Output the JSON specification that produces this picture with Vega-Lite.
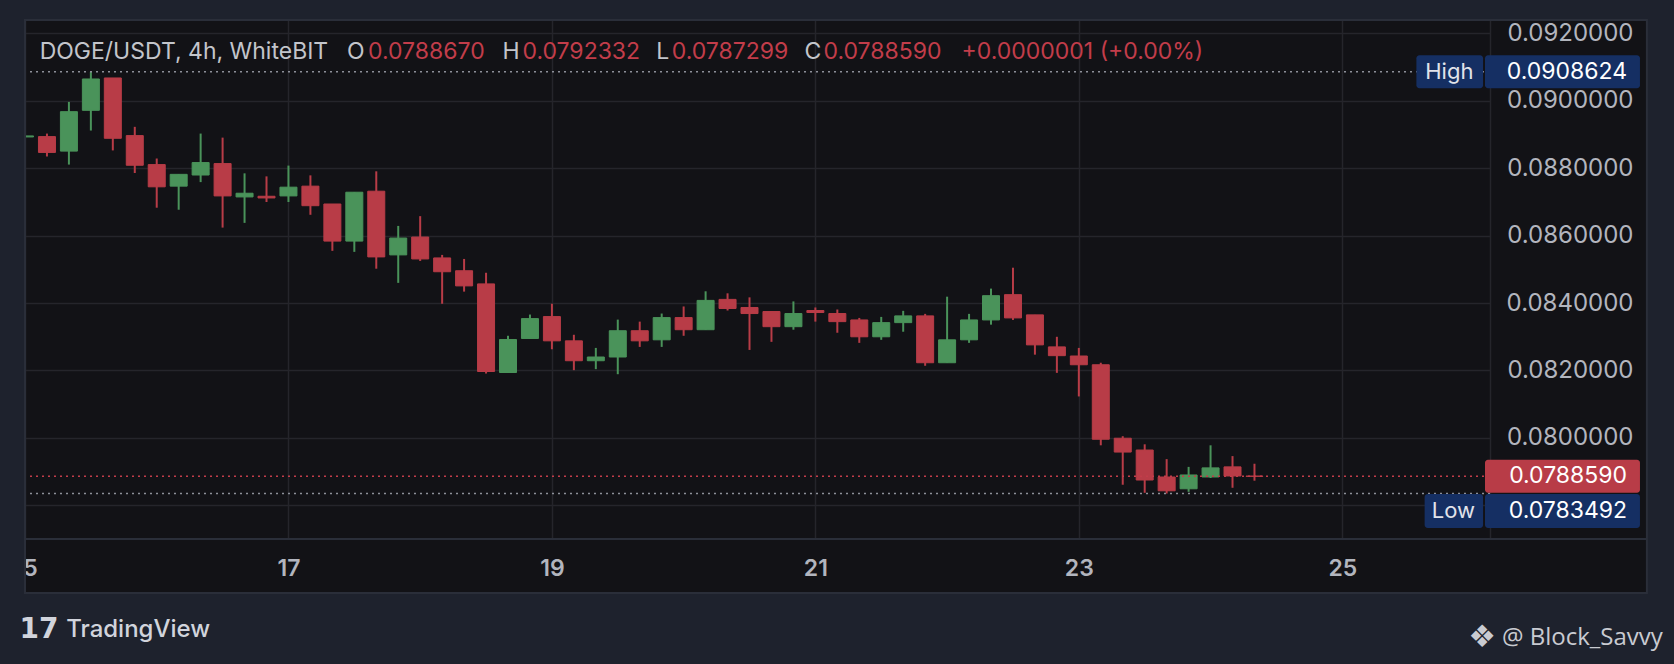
{
  "$schema": "https://vega.github.io/schema/vega-lite/v6.json",
  "description": "DOGE/USDT 4h candles on WhiteBIT, TradingView dark theme",
  "width": 1470,
  "height": 519,
  "autosize": {"type": "none"},
  "padding": {"left": 20, "top": 20, "right": 184, "bottom": 125},
  "config": {
    "background": "#121216",
    "view": {"stroke": null},
    "font": "Inter"
  },
  "datasets": {
    "candles": [
      {"t": "2024-01-15T00:00", "open": 0.08893, "high": 0.08897, "low": 0.08892, "close": 0.08896},
      {"t": "2024-01-15T04:00", "open": 0.08894, "high": 0.08903, "low": 0.08835, "close": 0.08847},
      {"t": "2024-01-15T08:00", "open": 0.08851, "high": 0.08997, "low": 0.08811, "close": 0.08968},
      {"t": "2024-01-15T12:00", "open": 0.08972, "high": 0.0908624, "low": 0.08912, "close": 0.09065},
      {"t": "2024-01-15T16:00", "open": 0.09068, "high": 0.09068, "low": 0.08853, "close": 0.08889},
      {"t": "2024-01-15T20:00", "open": 0.08897, "high": 0.08923, "low": 0.08786, "close": 0.08809},
      {"t": "2024-01-16T00:00", "open": 0.08811, "high": 0.08829, "low": 0.08683, "close": 0.08745},
      {"t": "2024-01-16T04:00", "open": 0.08747, "high": 0.08782, "low": 0.08677, "close": 0.08782},
      {"t": "2024-01-16T08:00", "open": 0.08780, "high": 0.08903, "low": 0.08759, "close": 0.08817},
      {"t": "2024-01-16T12:00", "open": 0.08814, "high": 0.08891, "low": 0.08624, "close": 0.08718},
      {"t": "2024-01-16T16:00", "open": 0.08715, "high": 0.08785, "low": 0.08638, "close": 0.08726},
      {"t": "2024-01-16T20:00", "open": 0.08717, "high": 0.08776, "low": 0.08700, "close": 0.08712},
      {"t": "2024-01-17T00:00", "open": 0.08718, "high": 0.08808, "low": 0.08700, "close": 0.08744},
      {"t": "2024-01-17T04:00", "open": 0.08747, "high": 0.08779, "low": 0.08662, "close": 0.08689},
      {"t": "2024-01-17T08:00", "open": 0.08694, "high": 0.08694, "low": 0.08555, "close": 0.08584},
      {"t": "2024-01-17T12:00", "open": 0.08584, "high": 0.08729, "low": 0.08552, "close": 0.08729},
      {"t": "2024-01-17T16:00", "open": 0.08732, "high": 0.08791, "low": 0.08502, "close": 0.08537},
      {"t": "2024-01-17T20:00", "open": 0.08543, "high": 0.08629, "low": 0.08460, "close": 0.08593},
      {"t": "2024-01-18T00:00", "open": 0.08596, "high": 0.08658, "low": 0.08525, "close": 0.08531},
      {"t": "2024-01-18T04:00", "open": 0.08534, "high": 0.08543, "low": 0.08398, "close": 0.08493},
      {"t": "2024-01-18T08:00", "open": 0.08496, "high": 0.08531, "low": 0.08434, "close": 0.08451},
      {"t": "2024-01-18T12:00", "open": 0.08457, "high": 0.08490, "low": 0.08191, "close": 0.08197},
      {"t": "2024-01-18T16:00", "open": 0.08194, "high": 0.08303, "low": 0.08194, "close": 0.08292},
      {"t": "2024-01-18T20:00", "open": 0.08295, "high": 0.08366, "low": 0.08295, "close": 0.08354},
      {"t": "2024-01-19T00:00", "open": 0.08360, "high": 0.08398, "low": 0.08263, "close": 0.08288},
      {"t": "2024-01-19T04:00", "open": 0.08288, "high": 0.08306, "low": 0.08201, "close": 0.08229},
      {"t": "2024-01-19T08:00", "open": 0.08229, "high": 0.08267, "low": 0.08204, "close": 0.08240},
      {"t": "2024-01-19T12:00", "open": 0.08240, "high": 0.08351, "low": 0.08189, "close": 0.08318},
      {"t": "2024-01-19T16:00", "open": 0.08318, "high": 0.08345, "low": 0.08270, "close": 0.08288},
      {"t": "2024-01-19T20:00", "open": 0.08291, "high": 0.08369, "low": 0.08270, "close": 0.08357},
      {"t": "2024-01-20T00:00", "open": 0.08357, "high": 0.08390, "low": 0.08303, "close": 0.08321},
      {"t": "2024-01-20T04:00", "open": 0.08321, "high": 0.08435, "low": 0.08321, "close": 0.08408},
      {"t": "2024-01-20T08:00", "open": 0.08411, "high": 0.08429, "low": 0.08378, "close": 0.08384},
      {"t": "2024-01-20T12:00", "open": 0.08387, "high": 0.08417, "low": 0.08261, "close": 0.08369},
      {"t": "2024-01-20T16:00", "open": 0.08375, "high": 0.08375, "low": 0.08285, "close": 0.08330},
      {"t": "2024-01-20T20:00", "open": 0.08330, "high": 0.08405, "low": 0.08321, "close": 0.08369},
      {"t": "2024-01-21T00:00", "open": 0.08378, "high": 0.08387, "low": 0.08345, "close": 0.08372},
      {"t": "2024-01-21T04:00", "open": 0.08369, "high": 0.08381, "low": 0.08312, "close": 0.08345},
      {"t": "2024-01-21T08:00", "open": 0.08350, "high": 0.08356, "low": 0.08282, "close": 0.08300},
      {"t": "2024-01-21T12:00", "open": 0.08300, "high": 0.08359, "low": 0.08291, "close": 0.08342},
      {"t": "2024-01-21T16:00", "open": 0.08342, "high": 0.08377, "low": 0.08315, "close": 0.08362},
      {"t": "2024-01-21T20:00", "open": 0.08362, "high": 0.08368, "low": 0.08214, "close": 0.08223},
      {"t": "2024-01-22T00:00", "open": 0.08223, "high": 0.08419, "low": 0.08223, "close": 0.08291},
      {"t": "2024-01-22T04:00", "open": 0.08291, "high": 0.08368, "low": 0.08282, "close": 0.08350},
      {"t": "2024-01-22T08:00", "open": 0.08350, "high": 0.08443, "low": 0.08336, "close": 0.08422},
      {"t": "2024-01-22T12:00", "open": 0.08425, "high": 0.08505, "low": 0.08350, "close": 0.08356},
      {"t": "2024-01-22T16:00", "open": 0.08365, "high": 0.08365, "low": 0.08247, "close": 0.08276},
      {"t": "2024-01-22T20:00", "open": 0.08270, "high": 0.08300, "low": 0.08193, "close": 0.08244},
      {"t": "2024-01-23T00:00", "open": 0.08243, "high": 0.08267, "low": 0.08123, "close": 0.08217},
      {"t": "2024-01-23T04:00", "open": 0.08217, "high": 0.08223, "low": 0.07978, "close": 0.07996},
      {"t": "2024-01-23T08:00", "open": 0.07999, "high": 0.08005, "low": 0.07861, "close": 0.07958},
      {"t": "2024-01-23T12:00", "open": 0.07964, "high": 0.07981, "low": 0.07837, "close": 0.07875},
      {"t": "2024-01-23T16:00", "open": 0.07884, "high": 0.07937, "low": 0.0783492, "close": 0.07843},
      {"t": "2024-01-23T20:00", "open": 0.07849, "high": 0.07914, "low": 0.07840, "close": 0.07890},
      {"t": "2024-01-24T00:00", "open": 0.07884, "high": 0.07978, "low": 0.07881, "close": 0.07911},
      {"t": "2024-01-24T04:00", "open": 0.07914, "high": 0.07946, "low": 0.07852, "close": 0.07887},
      {"t": "2024-01-24T08:00", "open": 0.0788670, "high": 0.0792332, "low": 0.0787299, "close": 0.0788590}
    ],
    "markers": [
      {"label": "High", "price": 0.0908624},
      {"label": "Last", "price": 0.0788590},
      {"label": "Low", "price": 0.0783492}
    ]
  },
  "layer": [
    {
      "data": {"name": "candles"},
      "mark": {"type": "rule", "strokeWidth": 2},
      "encoding": {
        "x": {"field": "t", "type": "temporal"},
        "y": {"field": "low", "type": "quantitative"},
        "y2": {"field": "high"},
        "color": {"condition": {"test": "datum.close >= datum.open", "value": "#4a935a"}, "value": "#b83c47"}
      }
    },
    {
      "data": {"name": "candles"},
      "mark": {"type": "bar", "width": 17, "strokeWidth": 1},
      "encoding": {
        "x": {
          "field": "t", "type": "temporal",
          "scale": {"domain": [{"year": 2024, "month": 1, "date": 15}, {"year": 2024, "month": 1, "date": 26, "hours": 2}]},
          "axis": {
            "title": null,
            "values": [
              {"year": 2024, "month": 1, "date": 15}, {"year": 2024, "month": 1, "date": 17},
              {"year": 2024, "month": 1, "date": 19}, {"year": 2024, "month": 1, "date": 21},
              {"year": 2024, "month": 1, "date": 23}, {"year": 2024, "month": 1, "date": 25}
            ],
            "format": "%d",
            "labelFlush": false, "labelOverlap": false, "labelBound": false,
            "grid": true, "gridColor": "#25252b", "gridWidth": 1.5,
            "domain": false, "ticks": false, "tickSize": 0,
            "labelPadding": 29, "labelBaseline": "middle",
            "labelFont": "Inter", "labelFontSize": 23, "labelFontWeight": 600, "labelColor": "#b2b5be"
          }
        },
        "y": {
          "field": "open", "type": "quantitative",
          "scale": {"domain": [0.077, 0.0924], "nice": false, "zero": false},
          "axis": {
            "title": null, "orient": "right",
            "values": [0.078, 0.080, 0.082, 0.084, 0.086, 0.088, 0.090, 0.092],
            "labelExpr": "datum.value < 0.079 ? '' : format(datum.value, '.7f')",
            "grid": true, "gridColor": "#25252b", "gridWidth": 1.5,
            "domain": true, "domainColor": "#25252b", "domainWidth": 1.5,
            "ticks": false, "tickSize": 0,
            "labelAlign": "right", "labelPadding": 143, "labelBaseline": "middle",
            "labelFont": "Inter", "labelFontSize": 24, "labelColor": "#b2b5be"
          }
        },
        "y2": {"field": "close"},
        "fill": {"condition": {"test": "datum.close >= datum.open", "value": "#4a935a"}, "value": "#b83c47"},
        "stroke": {"condition": {"test": "datum.close >= datum.open", "value": "#4a935a"}, "value": "#b83c47"}
      }
    },
    {
      "data": {"name": "markers"},
      "mark": {"type": "rule", "strokeWidth": 1.5, "strokeDash": [2, 4]},
      "encoding": {
        "y": {"field": "price", "type": "quantitative"},
        "color": {"condition": {"test": "datum.label == 'Last'", "value": "#c23d4a"}, "value": "#8d9099"}
      }
    },
    {
      "data": {"values": [{}]},
      "mark": {"type": "rect", "fillOpacity": 0, "stroke": "#1e222d", "strokeWidth": 100},
      "encoding": {
        "x": {"datum": {"year": 2024, "month": 1, "date": 14, "hours": 14, "minutes": 57}, "type": "temporal"},
        "x2": {"datum": {"year": 2024, "month": 1, "date": 27, "hours": 16, "minutes": 33}},
        "y": {"datum": 0.0938836, "type": "quantitative"},
        "y2": {"datum": 0.073914}
      }
    },
    {
      "data": {"values": [{}]},
      "mark": {"type": "rect", "fillOpacity": 0, "stroke": "#2a2e39", "strokeWidth": 2},
      "encoding": {
        "x": {"datum": {"year": 2024, "month": 1, "date": 15}, "type": "temporal"},
        "x2": {"datum": {"year": 2024, "month": 1, "date": 27, "hours": 7, "minutes": 30}},
        "y": {"datum": 0.0924, "type": "quantitative"},
        "y2": {"datum": 0.0753977}
      }
    },
    {
      "data": {"values": [{}]},
      "mark": {"type": "rule", "stroke": "#2a2e39", "strokeWidth": 2},
      "encoding": {
        "x": {"datum": {"year": 2024, "month": 1, "date": 15}, "type": "temporal"},
        "x2": {"datum": {"year": 2024, "month": 1, "date": 27, "hours": 7, "minutes": 30}},
        "y": {"datum": 0.077, "type": "quantitative"}
      }
    },
    {
      "data": {"name": "markers"},
      "transform": [{"filter": "datum.label != 'Low'"}],
      "mark": {"type": "rect", "cornerRadius": 3, "yOffset": -16.5, "y2Offset": 16.5},
      "encoding": {
        "x": {"datum": {"year": 2024, "month": 1, "date": 26, "hours": 2}, "type": "temporal"},
        "x2": {"datum": {"year": 2024, "month": 1, "date": 27, "hours": 6, "minutes": 14}},
        "y": {"field": "price", "type": "quantitative"},
        "y2": {"field": "price"},
        "fill": {"condition": {"test": "datum.label == 'Last'", "value": "#b83c47"}, "value": "#152f63"}
      }
    },
    {
      "data": {"name": "markers"},
      "transform": [{"filter": "datum.label == 'Low'"}],
      "mark": {"type": "rect", "cornerRadius": 3, "fill": "#152f63", "yOffset": 0.5, "y2Offset": 34.5},
      "encoding": {
        "x": {"datum": {"year": 2024, "month": 1, "date": 26, "hours": 2}, "type": "temporal"},
        "x2": {"datum": {"year": 2024, "month": 1, "date": 27, "hours": 6, "minutes": 14}},
        "y": {"field": "price", "type": "quantitative"},
        "y2": {"field": "price"}
      }
    },
    {
      "data": {"name": "markers"},
      "transform": [{"filter": "datum.label == 'High'"}],
      "mark": {"type": "rect", "cornerRadius": 3, "fill": "#152f63", "yOffset": -16.5, "y2Offset": 16.5},
      "encoding": {
        "x": {"datum": {"year": 2024, "month": 1, "date": 25, "hours": 13, "minutes": 30}, "type": "temporal"},
        "x2": {"datum": {"year": 2024, "month": 1, "date": 26, "hours": 1, "minutes": 39}},
        "y": {"field": "price", "type": "quantitative"},
        "y2": {"field": "price"}
      }
    },
    {
      "data": {"name": "markers"},
      "transform": [{"filter": "datum.label == 'Low'"}],
      "mark": {"type": "rect", "cornerRadius": 3, "fill": "#152f63", "yOffset": 0.5, "y2Offset": 34.5},
      "encoding": {
        "x": {"datum": {"year": 2024, "month": 1, "date": 25, "hours": 15}, "type": "temporal"},
        "x2": {"datum": {"year": 2024, "month": 1, "date": 26, "hours": 1, "minutes": 39}},
        "y": {"field": "price", "type": "quantitative"},
        "y2": {"field": "price"}
      }
    },
    {
      "data": {"name": "markers"},
      "transform": [{"filter": "datum.label != 'Low'"}],
      "mark": {"type": "text", "align": "right", "baseline": "middle", "font": "Inter", "fontSize": 23, "color": "#ffffff"},
      "encoding": {
        "x": {"datum": {"year": 2024, "month": 1, "date": 27, "hours": 3, "minutes": 53}, "type": "temporal"},
        "y": {"field": "price", "type": "quantitative"},
        "text": {"field": "price", "format": ".7f"}
      }
    },
    {
      "data": {"name": "markers"},
      "transform": [{"filter": "datum.label == 'Low'"}],
      "mark": {"type": "text", "align": "right", "baseline": "middle", "dy": 17.5, "font": "Inter", "fontSize": 23, "color": "#ffffff"},
      "encoding": {
        "x": {"datum": {"year": 2024, "month": 1, "date": 27, "hours": 3, "minutes": 53}, "type": "temporal"},
        "y": {"field": "price", "type": "quantitative"},
        "text": {"field": "price", "format": ".7f"}
      }
    },
    {
      "data": {"name": "markers"},
      "transform": [{"filter": "datum.label == 'High'"}],
      "mark": {"type": "text", "align": "center", "baseline": "middle", "font": "Inter", "fontSize": 22, "color": "#e1e3ea"},
      "encoding": {
        "x": {"datum": {"year": 2024, "month": 1, "date": 25, "hours": 19, "minutes": 30}, "type": "temporal"},
        "y": {"field": "price", "type": "quantitative"},
        "text": {"field": "label"}
      }
    },
    {
      "data": {"name": "markers"},
      "transform": [{"filter": "datum.label == 'Low'"}],
      "mark": {"type": "text", "align": "center", "baseline": "middle", "dy": 17.5, "font": "Inter", "fontSize": 22, "color": "#e1e3ea"},
      "encoding": {
        "x": {"datum": {"year": 2024, "month": 1, "date": 25, "hours": 20, "minutes": 15}, "type": "temporal"},
        "y": {"field": "price", "type": "quantitative"},
        "text": {"field": "label"}
      }
    },
    {
      "data": {"values": [{}]},
      "mark": {"type": "text", "align": "left", "baseline": "middle", "font": "Inter", "fontSize": 23, "color": "#c3c5cb"},
      "encoding": {
        "x": {"datum": {"year": 2024, "month": 1, "date": 15, "hours": 2, "minutes": 40}, "type": "temporal"},
        "y": {"datum": 0.0914594, "type": "quantitative"},
        "text": {"value": "DOGE/USDT, 4h, WhiteBIT"}
      }
    },
    {
      "data": {"values": [{}]},
      "mark": {"type": "text", "align": "left", "baseline": "middle", "font": "Inter", "fontSize": 23, "color": "#c3c5cb"},
      "encoding": {
        "x": {"datum": {"year": 2024, "month": 1, "date": 17, "hours": 10, "minutes": 40}, "type": "temporal"},
        "y": {"datum": 0.0914594, "type": "quantitative"},
        "text": {"value": "O"}
      }
    },
    {
      "data": {"values": [{}]},
      "mark": {"type": "text", "align": "left", "baseline": "middle", "font": "Inter", "fontSize": 23, "color": "#c23d4a"},
      "encoding": {
        "x": {"datum": {"year": 2024, "month": 1, "date": 17, "hours": 14, "minutes": 30}, "type": "temporal"},
        "y": {"datum": 0.0914594, "type": "quantitative"},
        "text": {"value": "0.0788670"}
      }
    },
    {
      "data": {"values": [{}]},
      "mark": {"type": "text", "align": "left", "baseline": "middle", "font": "Inter", "fontSize": 23, "color": "#c3c5cb"},
      "encoding": {
        "x": {"datum": {"year": 2024, "month": 1, "date": 18, "hours": 15, "minutes": 0}, "type": "temporal"},
        "y": {"datum": 0.0914594, "type": "quantitative"},
        "text": {"value": "H"}
      }
    },
    {
      "data": {"values": [{}]},
      "mark": {"type": "text", "align": "left", "baseline": "middle", "font": "Inter", "fontSize": 23, "color": "#c23d4a"},
      "encoding": {
        "x": {"datum": {"year": 2024, "month": 1, "date": 18, "hours": 18, "minutes": 39}, "type": "temporal"},
        "y": {"datum": 0.0914594, "type": "quantitative"},
        "text": {"value": "0.0792332"}
      }
    },
    {
      "data": {"values": [{}]},
      "mark": {"type": "text", "align": "left", "baseline": "middle", "font": "Inter", "fontSize": 23, "color": "#c3c5cb"},
      "encoding": {
        "x": {"datum": {"year": 2024, "month": 1, "date": 19, "hours": 19, "minutes": 0}, "type": "temporal"},
        "y": {"datum": 0.0914594, "type": "quantitative"},
        "text": {"value": "L"}
      }
    },
    {
      "data": {"values": [{}]},
      "mark": {"type": "text", "align": "left", "baseline": "middle", "font": "Inter", "fontSize": 23, "color": "#c23d4a"},
      "encoding": {
        "x": {"datum": {"year": 2024, "month": 1, "date": 19, "hours": 21, "minutes": 50}, "type": "temporal"},
        "y": {"datum": 0.0914594, "type": "quantitative"},
        "text": {"value": "0.0787299"}
      }
    },
    {
      "data": {"values": [{}]},
      "mark": {"type": "text", "align": "left", "baseline": "middle", "font": "Inter", "fontSize": 23, "color": "#c3c5cb"},
      "encoding": {
        "x": {"datum": {"year": 2024, "month": 1, "date": 20, "hours": 22, "minutes": 0}, "type": "temporal"},
        "y": {"datum": 0.0914594, "type": "quantitative"},
        "text": {"value": "C"}
      }
    },
    {
      "data": {"values": [{}]},
      "mark": {"type": "text", "align": "left", "baseline": "middle", "font": "Inter", "fontSize": 23, "color": "#c23d4a"},
      "encoding": {
        "x": {"datum": {"year": 2024, "month": 1, "date": 21, "hours": 1, "minutes": 29}, "type": "temporal"},
        "y": {"datum": 0.0914594, "type": "quantitative"},
        "text": {"value": "0.0788590"}
      }
    },
    {
      "data": {"values": [{}]},
      "mark": {"type": "text", "align": "left", "baseline": "middle", "font": "Inter", "fontSize": 23, "color": "#c23d4a"},
      "encoding": {
        "x": {"datum": {"year": 2024, "month": 1, "date": 22, "hours": 2, "minutes": 38}, "type": "temporal"},
        "y": {"datum": 0.0914594, "type": "quantitative"},
        "text": {"value": "+0.0000001 (+0.00%)"}
      }
    },
    {
      "data": {"values": [{}]},
      "mark": {"type": "text", "align": "left", "baseline": "middle", "font": "DejaVu Sans", "fontSize": 28, "fontWeight": "bold", "color": "#d1d4dc"},
      "encoding": {
        "x": {"datum": {"year": 2024, "month": 1, "date": 14, "hours": 23}, "type": "temporal"},
        "y": {"datum": 0.0742998, "type": "quantitative"},
        "text": {"value": "17"}
      }
    },
    {
      "data": {"values": [{}]},
      "mark": {"type": "text", "align": "left", "baseline": "middle", "font": "Inter", "fontSize": 24, "fontWeight": 500, "color": "#d1d4dc"},
      "encoding": {
        "x": {"datum": {"year": 2024, "month": 1, "date": 15, "hours": 7, "minutes": 30}, "type": "temporal"},
        "y": {"datum": 0.0742998, "type": "quantitative"},
        "text": {"value": "TradingView"}
      }
    },
    {
      "data": {"values": [{}]},
      "mark": {"type": "text", "align": "right", "baseline": "middle", "font": "DejaVu Sans", "fontSize": 31, "color": "#c9cbd1"},
      "encoding": {
        "x": {"datum": {"year": 2024, "month": 1, "date": 26, "hours": 4}, "type": "temporal"},
        "y": {"datum": 0.0740624, "type": "quantitative"},
        "text": {"value": "❖"}
      }
    },
    {
      "data": {"values": [{}]},
      "mark": {"type": "text", "align": "left", "baseline": "middle", "font": "Open Sans", "fontSize": 24, "color": "#c9cbd1"},
      "encoding": {
        "x": {"datum": {"year": 2024, "month": 1, "date": 26, "hours": 5, "minutes": 5}, "type": "temporal"},
        "y": {"datum": 0.0740624, "type": "quantitative"},
        "text": {"value": "@ Block_Savvy"}
      }
    }
  ]
}
